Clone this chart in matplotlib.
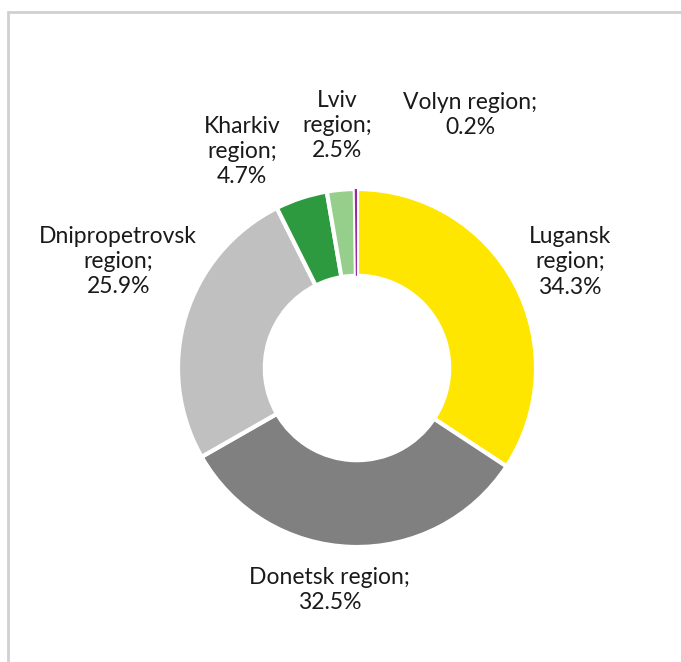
import matplotlib
matplotlib.use("Agg")
import matplotlib.pyplot as plt
from matplotlib.patches import Rectangle
import numpy as np

regions = ["Lugansk region", "Donetsk region", "Dnipropetrovsk region",
           "Kharkiv region", "Lviv region", "Volyn region"]
shares = [34.3, 32.5, 25.9, 4.7, 2.5, 0.2]
label_texts = ["Lugansk\nregion;\n34.3%", "Donetsk region;\n32.5%",
               "Dnipropetrovsk\nregion;\n25.9%", "Kharkiv\nregion;\n4.7%",
               "Lviv\nregion;\n2.5%", "Volyn region;\n0.2%"]
colors = ["#FFE600", "#808080", "#C0C0C0", "#2E9A40", "#96CE8C", "#9B27A6"]
# label placement (radius factor, angle in degrees) — layout only
label_pos = [(1.33, 26.5), (1.25, -97.0), (1.46, 156.0),
             (1.37, 118.0), (1.36, 94.7), (1.55, 65.9)]

W, H = 681, 662
fig = plt.figure(figsize=(W / 100, H / 100), dpi=100)
ax = fig.add_axes([0, 0, 1, 1])
scale = 179.0
cx, cy = 357, 368

wedges, _ = ax.pie(shares, colors=colors, startangle=90, counterclock=False, radius=1.0,
                   wedgeprops=dict(width=0.485, edgecolor="white", linewidth=3))
wedges[-1].set_linewidth(0)

ax.set_xlim(-cx / scale, (W - cx) / scale)
ax.set_ylim(-(H - cy) / scale, cy / scale)
ax.set_aspect("equal")
ax.axis("off")

for txt, (r, a) in zip(label_texts, label_pos):
    t = np.deg2rad(a)
    ax.text(r * np.cos(t), r * np.sin(t), txt, ha="center", va="center",
            fontsize=16.5, family=["Lato", "DejaVu Sans"], color="#1a1a1a",
            linespacing=1.25)

fig.patches.append(Rectangle((8 / W, -0.1), 1.2, 1.1 - 12 / H, transform=fig.transFigure,
                             fill=False, edgecolor="#d0d0d0", linewidth=2))

fig.savefig("out.png", dpi=100)
